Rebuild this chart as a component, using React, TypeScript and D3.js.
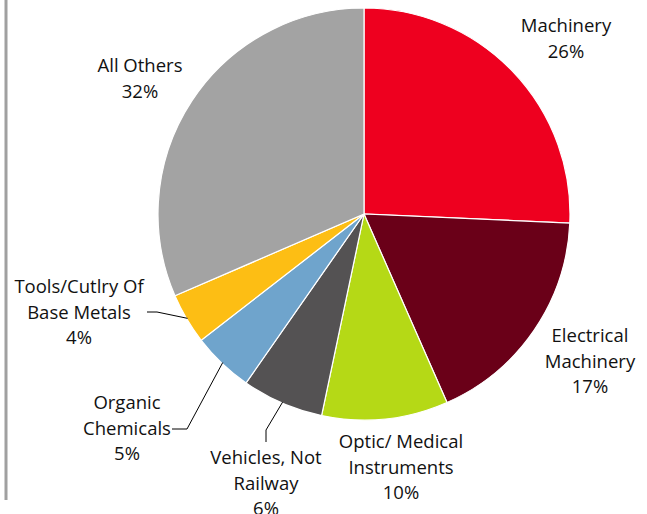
import React from "react";
import * as d3 from "d3";

const categories = [
  "Machinery",
  "Electrical Machinery",
  "Optic/ Medical Instruments",
  "Vehicles, Not Railway",
  "Organic Chemicals",
  "Tools/Cutlry Of Base Metals",
  "All Others",
];
const shares = [25.7, 17.7, 9.9, 6.4, 4.8, 4.0, 31.5];
const pctLabels = ["26%", "17%", "10%", "6%", "5%", "4%", "32%"];
const labelLines = [
  ["Machinery"],
  ["Electrical", "Machinery"],
  ["Optic/ Medical", "Instruments"],
  ["Vehicles, Not", "Railway"],
  ["Organic", "Chemicals"],
  ["Tools/Cutlry Of", "Base Metals"],
  ["All Others"],
];
const colors = ["#EE001F", "#6A0018", "#B5D916", "#545253", "#6FA4CC", "#FDBE14", "#A3A3A3"];

// label anchor positions (center x, first baseline y)
const labelPos: [number, number][] = [
  [566, 32],
  [590, 342],
  [401, 448],
  [266, 464],
  [127, 409],
  [79, 293],
  [140, 72],
];
// leader lines: [text-end point, elbow]; last point computed on the arc edge
const leaders: { [k: number]: [number, number][] } = {
  3: [[266, 442], [266, 430]],
  4: [[172, 429], [187, 429]],
  5: [[147, 312], [157, 312]],
};

export default function App() {
  const W = 647, H = 514;
  const cx = 364, cy = 214, r = 206;
  const pie = d3.pie<number>().sort(null).value((d) => d);
  const arcs = pie(shares);
  const arcGen = d3.arc<d3.PieArcDatum<number>>().innerRadius(0).outerRadius(r);
  const lineH = 25.5;
  return (
    <svg width={W} height={H} style={{ position: "absolute", left: 0, top: 0 }}>
      <rect x={0} y={0} width={W} height={H} fill="#fff" />
      <line x1={6} y1={0} x2={6} y2={500} stroke="#A0A0A0" strokeWidth={3} />
      <g transform={`translate(${cx},${cy})`}>
        {arcs.map((a, i) => (
          <path key={i} d={arcGen(a) || ""} fill={colors[i]} stroke="#fff" strokeWidth={1.2} />
        ))}
      </g>
      {Object.keys(leaders).map((k) => {
        const i = +k;
        const a = arcs[i];
        const mid = (a.startAngle + a.endAngle) / 2;
        const rr = r - 1;
        const px = cx + Math.sin(mid) * rr;
        const py = cy - Math.cos(mid) * rr;
        const pts = [...leaders[i], [px, py]];
        return (
          <polyline
            key={k}
            points={pts.map((p) => p.join(",")).join(" ")}
            fill="none"
            stroke="#000"
            strokeWidth={1}
          />
        );
      })}
      {categories.map((c, i) => {
        const [x, y] = labelPos[i];
        const lines = [...labelLines[i], pctLabels[i]];
        return (
          <text
            key={c}
            x={x}
            y={y}
            textAnchor="middle"
            fontFamily="'Open Sans', sans-serif"
            fontSize={18.5}
            fill="#111"
          >
            {lines.map((l, j) => (
              <tspan key={j} x={x} y={y + j * lineH}>
                {l}
              </tspan>
            ))}
          </text>
        );
      })}
    </svg>
  );
}
